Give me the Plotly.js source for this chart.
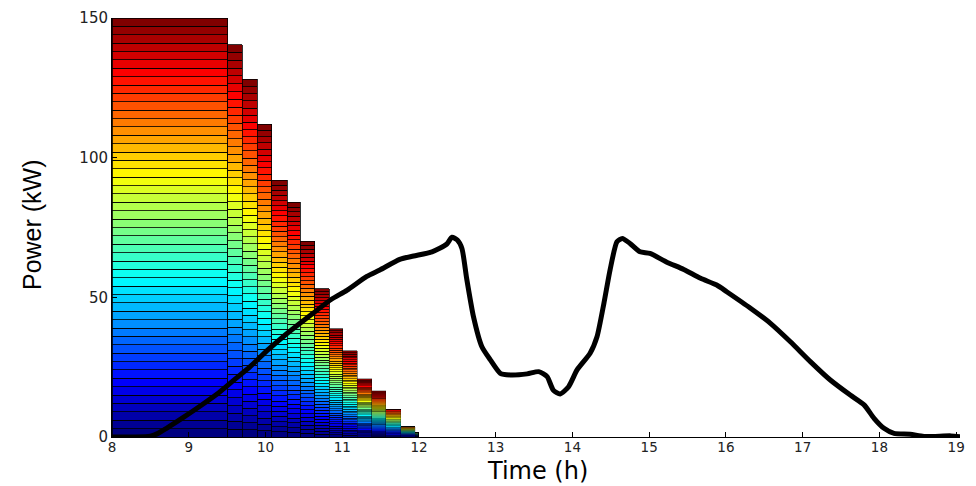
<!DOCTYPE html>
<html>
<head>
<meta charset="utf-8">
<script src="https://cdn.plot.ly/plotly-3.0.1.min.js"></script>
<style>html,body{margin:0;padding:0;background:#fff;}#chart{width:976px;height:486px;}</style>
</head>
<body>
<div id="chart"></div>
<script>
// Stacked load columns (time edges in h, total power in kW, number of active layers)
const colEdges = [8, 9.51, 9.70, 9.89, 10.08, 10.285, 10.45, 10.64, 10.83, 11.005, 11.195, 11.385, 11.57, 11.765, 11.95, 11.99];
const colTotal = [150, 140.5, 128, 112, 92, 84, 70, 53, 38.8, 30.8, 20.8, 16.6, 9.9, 3.7, 1.5];
const colLayers = [50, 50, 50, 50, 50, 50, 50, 50, 50, 50, 50, 50, 45, 41, 30];
const nLayers = 50;

// Black power curve (time h, power kW)
const curveT = [8, 8.3, 8.5, 8.6, 8.71, 8.93, 9.15, 9.37, 9.58, 9.8, 10.02, 10.23, 10.45, 10.62, 10.86, 11.06, 11.32, 11.49, 11.75, 11.93, 12.17, 12.36, 12.43, 12.5, 12.56, 12.62, 12.71, 12.82, 12.93, 13.06, 13.19, 13.41, 13.56, 13.67, 13.75, 13.84, 13.95, 14.06, 14.23, 14.32, 14.41, 14.49, 14.58, 14.65, 14.75, 14.88, 15.01, 15.23, 15.45, 15.67, 15.88, 16.01, 16.32, 16.58, 16.84, 17.1, 17.36, 17.62, 17.8, 17.93, 18.06, 18.19, 18.4, 18.58, 18.93, 19.05];
const curveP = [0, 0, 0.3, 1.3, 3.1, 7.0, 11.1, 15.4, 20.2, 25.2, 30.9, 35.9, 40.7, 44.3, 49.3, 52.5, 57.5, 59.8, 63.6, 64.8, 66.3, 69.0, 71.5, 70.5, 67.5, 57.0, 43.1, 32.3, 27.6, 22.8, 22.2, 22.6, 23.4, 21.6, 16.8, 15.4, 18.0, 24.0, 30.0, 35.9, 47.9, 59.8, 69.9, 71.1, 69.3, 66.3, 65.7, 62.6, 60.0, 56.8, 54.4, 52.0, 46.1, 40.7, 34.1, 27.0, 20.4, 15.0, 11.5, 6.7, 3.1, 1.3, 1.0, 0.2, 0.4, 0.1];

const xTicks = [8, 9, 10, 11, 12, 13, 14, 15, 16, 17, 18, 19];
const yTicks = [0, 50, 100, 150];

function jet(x) {
  const c = v => Math.max(0, Math.min(1, v));
  const r = c(1.5 - Math.abs(4 * x - 3));
  const g = c(1.5 - Math.abs(4 * x - 2));
  const b = c(1.5 - Math.abs(4 * x - 1));
  return `rgb(${Math.round(r * 255)},${Math.round(g * 255)},${Math.round(b * 255)})`;
}

const colX = [], colW = [], lineW = [];
for (let i = 0; i < colTotal.length; i++) {
  colX.push((colEdges[i] + colEdges[i + 1]) / 2);
  colW.push(colEdges[i + 1] - colEdges[i]);
  const layerPx = colTotal[i] / colLayers[i] * 2.79;
  lineW.push(Math.max(0.15, Math.min(0.8, layerPx * 0.28)));
}

const traces = [];
for (let k = 0; k < nLayers; k++) {
  const y = colTotal.map((tot, i) => (k < colLayers[i] ? tot / colLayers[i] : 0));
  traces.push({
    type: 'bar', x: colX, y: y, width: colW,
    marker: { color: jet(k / (nLayers - 1)), line: { color: '#000', width: lineW } },
    hoverinfo: 'skip', showlegend: false
  });
}
traces.push({
  type: 'scatter', mode: 'lines', x: curveT, y: curveP,
  line: { color: '#000', width: 5, shape: 'spline', smoothing: 0.6 },
  hoverinfo: 'skip', showlegend: false
});

const layout = {
  width: 976, height: 486,
  margin: { l: 112, r: 16, t: 18, b: 49 },
  paper_bgcolor: '#fff', plot_bgcolor: '#fff',
  barmode: 'stack', bargap: 0,
  font: { family: 'DejaVu Sans, sans-serif', color: '#222' },
  xaxis: {
    range: [8, 19.05], tickvals: xTicks, ticktext: xTicks.map(String),
    ticks: 'inside', ticklen: 5, tickwidth: 1, tickcolor: '#000',
    showline: true, linecolor: '#000', linewidth: 1, showgrid: false, zeroline: false,
    tickfont: { size: 13.5, color: '#222' }, ticklabelstandoff: -2,
    automargin: false
  },
  yaxis: {
    range: [0, 150], tickvals: yTicks, ticktext: yTicks.map(String),
    ticks: 'inside', ticklen: 5, tickwidth: 1, tickcolor: '#000',
    showline: true, linecolor: '#000', linewidth: 1, showgrid: false, zeroline: false,
    tickfont: { size: 15, color: '#222' },
    automargin: false
  },
  annotations: [
    { text: 'Time (h)', xref: 'paper', yref: 'paper', x: 0.502, y: -0.0812, xanchor: 'center', yanchor: 'middle',
      showarrow: false, font: { size: 24, color: '#000', family: 'DejaVu Sans, sans-serif' } },
    { text: 'Power (kW)', xref: 'paper', yref: 'paper', x: -0.0943, y: 0.506, xanchor: 'center', yanchor: 'middle',
      textangle: -90, showarrow: false, font: { size: 25, color: '#000', family: 'Liberation Sans, Arial, sans-serif' } }
  ]
};

Plotly.newPlot('chart', traces, layout, { displayModeBar: false, staticPlot: true });
</script>
</body>
</html>
